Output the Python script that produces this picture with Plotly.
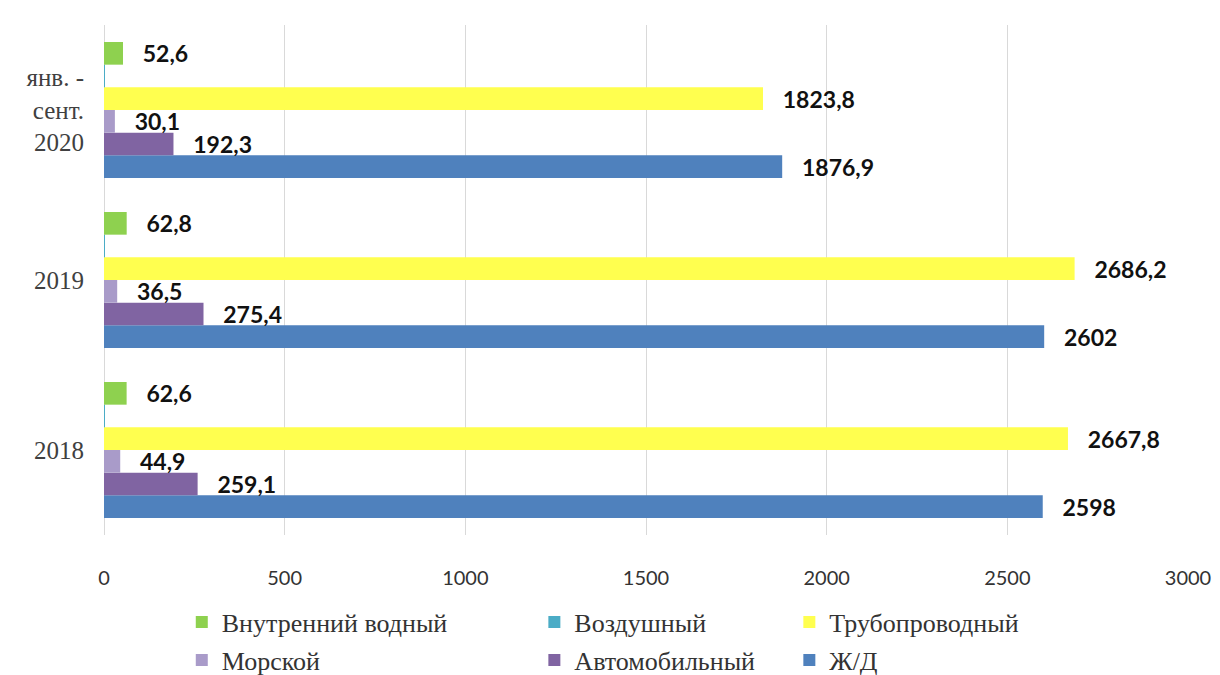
import plotly.graph_objects as go

categories = ["2018", "2019", "янв. -<br>сент.<br>2020"]

series_names = ["Ж/Д", "Автомобильный", "Морской", "Трубопроводный", "Воздушный", "Внутренний водный"]
rail = [2598, 2602, 1876.9]
auto = [259.1, 275.4, 192.3]
sea = [44.9, 36.5, 30.1]
pipe = [2667.8, 2686.2, 1823.8]
air = [1.1, 1.2, 0.9]
inland = [62.6, 62.8, 52.6]
show_labels = [True, True, True, True, False, True]

x_ticks = [0, 500, 1000, 1500, 2000, 2500, 3000]

colors = ["#4F81BD", "#8064A2", "#A99BC9", "#FFFF4F", "#4BACC6", "#8ED14F"]
values = [rail, auto, sea, pipe, air, inland]

SERIF = "Liberation Serif, DejaVu Serif, serif"

# legend placement in container coordinates: (legend id, x, y)
legend_slots = {
    "Внутренний водный": ("legend", 0.149, 0.0785),
    "Воздушный": ("legend2", 0.438, 0.0785),
    "Трубопроводный": ("legend3", 0.647, 0.0785),
    "Морской": ("legend4", 0.149, 0.0222),
    "Автомобильный": ("legend5", 0.438, 0.0222),
    "Ж/Д": ("legend6", 0.647, 0.0222),
}


def fmt(v):
    s = ("%g" % v).replace(".", ",")
    return "\u00a0\u00a0\u00a0" + s


fig = go.Figure()
for name, vals, col, lab in zip(series_names, values, colors, show_labels):
    fig.add_trace(go.Bar(
        y=categories, x=vals, name=name, orientation="h",
        marker=dict(color=col, line=dict(width=0)),
        text=[fmt(v) for v in vals] if lab else None,
        textposition="outside" if lab else "none",
        constraintext="none",
        cliponaxis=False,
        textfont=dict(family="Lato", size=23, color="#111111", weight="bold"),
        legend=legend_slots[name][0],
        hoverinfo="skip",
    ))

layout_legends = {}
for name, (lid, lx, ly) in legend_slots.items():
    layout_legends[lid] = dict(
        x=lx, y=ly, xref="container", yref="container",
        xanchor="left", yanchor="middle",
        orientation="h",
        font=dict(family=SERIF, size=26, color="#333333", weight="normal"),
        bgcolor="rgba(0,0,0,0)",
        itemwidth=30, itemclick=False, itemdoubleclick=False,
    )

fig.update_layout(
    width=1220, height=675,
    font=dict(family=SERIF, color="#404040"),
    margin=dict(l=104, r=32, t=25, b=140, autoexpand=False),
    paper_bgcolor="white", plot_bgcolor="white",
    barmode="group", bargap=0.2, bargroupgap=0,
    showlegend=True,
    xaxis=dict(
        range=[0, 3000], tickvals=x_ticks,
        showgrid=True, gridcolor="#D9D9D9", gridwidth=1,
        zeroline=True, zerolinecolor="#D9D9D9", zerolinewidth=1,
        showline=False, ticks="",
        tickfont=dict(family="Lato", size=20, color="#333333"),
        ticklabelstandoff=29,
    ),
    yaxis=dict(
        type="category", categoryorder="array", categoryarray=categories,
        showgrid=False, zeroline=False, showline=False, ticks="",
        tickfont=dict(family=SERIF, size=25, color="#404040"),
        ticklabelstandoff=19,
    ),
    **layout_legends,
)

fig.write_html("out.html")
